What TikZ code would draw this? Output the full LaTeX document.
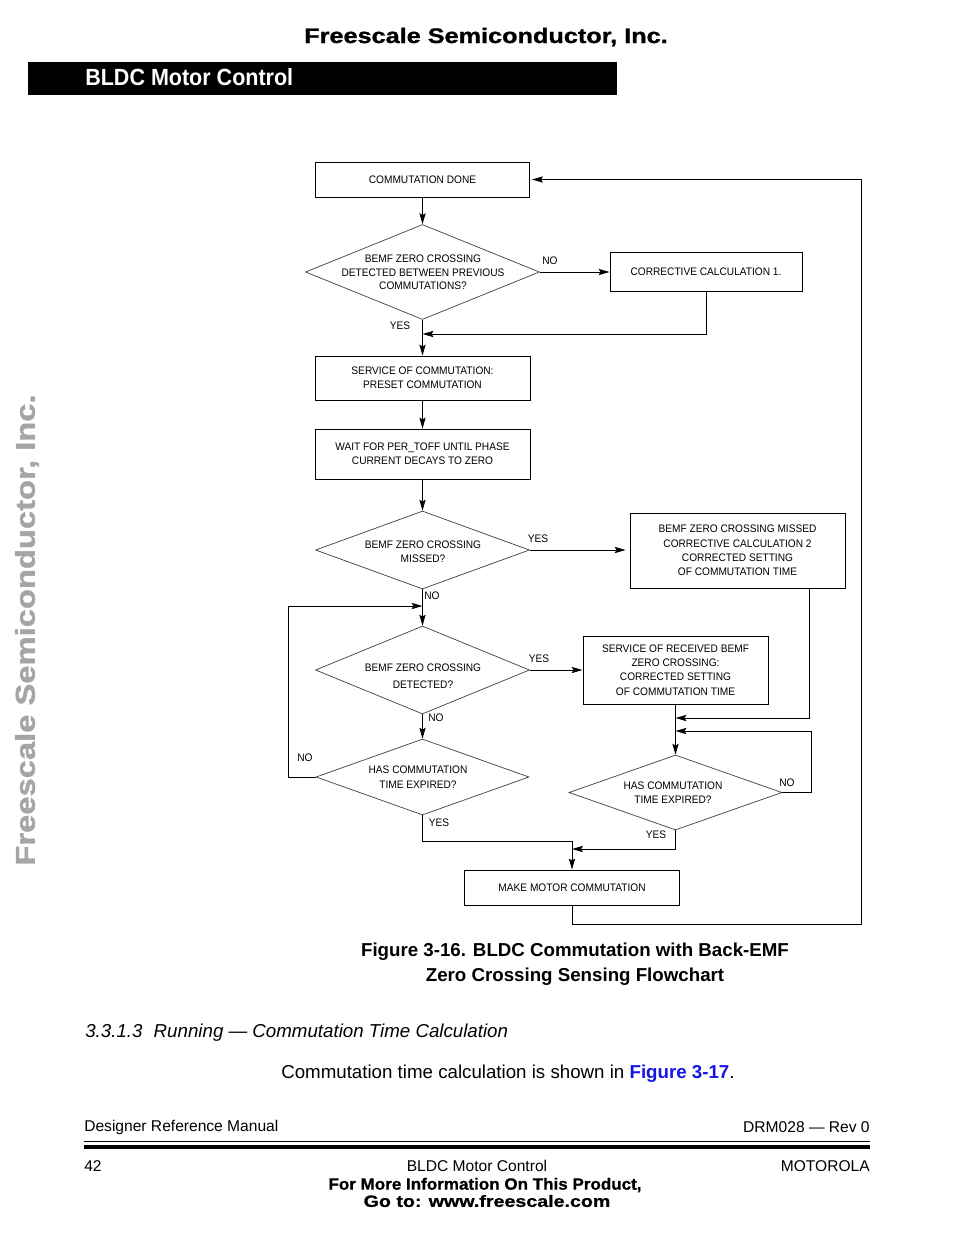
\documentclass[tikz,border=0pt]{standalone}
\usepackage{fontspec}
\setmainfont{Liberation Sans}
\newfontfamily\flowfont[FakeStretch=0.93]{Liberation Sans}
\newfontfamily\widefont[FakeStretch=1.2,FakeBold=1.2]{Liberation Sans}
\newfontfamily\footwide[FakeStretch=1.04,FakeBold=0.8]{Liberation Sans}
\newfontfamily\footwider[FakeStretch=1.2,FakeBold=0.8]{Liberation Sans}
\newfontfamily\barfont[FakeStretch=0.92]{Liberation Sans}
\usetikzlibrary{shapes.geometric,arrows.meta}
\definecolor{linkblue}{RGB}{20,20,230}
\definecolor{wmgray}{RGB}{165,165,165}
\def\pxu{0.6415pt}
\tikzset{
  box/.style 2 args={draw, line width=0.6pt, inner sep=0pt, align=center,
    font=\flowfont\fontsize{7}{9.1}\selectfont,
    minimum width=#1*\pxu, minimum height=#2*\pxu},
  dia/.style 2 args={draw=black!75, diamond, line width=0.45pt, inner sep=0pt,
    minimum width=#1*\pxu, minimum height=#2*\pxu},
  dtxt/.style={inner sep=0pt, align=center, font=\flowfont\fontsize{7}{8.8}\selectfont},
  lbl/.style={inner sep=0pt, font=\flowfont\fontsize{7}{8.8}\selectfont},
  arr/.style={line width=0.6pt, -{Stealth[length=7pt,width=4pt,inset=1.2pt]}},
  txt/.style={inner sep=0pt, font=\fontsize{10}{12}\selectfont},
}
\begin{document}
\begin{tikzpicture}[x=0.6415pt,y=-0.6415pt]
\fill[white] (0,0) rectangle (954,1235);
\useasboundingbox (0,0) rectangle (954,1235);

% header
\node[inner sep=0pt, font=\widefont\bfseries\fontsize{13.5}{16}\selectfont] (hdr) at (486,37) {Freescale Semiconductor, Inc.};
\node[fill=black, inner sep=0pt, anchor=north west, minimum width=589*\pxu, minimum height=33*\pxu] (bar) at (28,62) {};
\node[inner sep=0pt, anchor=west, text=white, font=\barfont\bfseries\fontsize{15}{18}\selectfont] (bartxt) at (85,77.5) {BLDC Motor Control};

% watermark
\node[inner sep=0pt, rotate=90, text=wmgray, font=\widefont\bfseries\fontsize{17.5}{20}\selectfont] (wm) at (27,630) {Freescale Semiconductor, Inc.};

% flowchart nodes
\node[box={214}{35}] (b1) at (422.5,179.5) {COMMUTATION DONE};
\node[dia={234}{95}] (d1) at (422.5,272) {};
\node[dtxt] (d1t) at (423,272.5) {BEMF ZERO CROSSING\\DETECTED BETWEEN PREVIOUS\\COMMUTATIONS?};
\node[box={192}{39}] (cc1) at (706,272) {CORRECTIVE CALCULATION 1.};
\node[box={215}{44}] (b2) at (422.5,378) {SERVICE OF COMMUTATION:\\PRESET COMMUTATION};
\node[box={215}{50}] (b3) at (422.5,454) {WAIT FOR PER\_TOFF UNTIL PHASE\\CURRENT DECAYS TO ZERO};
\node[dia={214}{78}] (d3) at (422.5,550) {};
\node[dtxt] (d3t) at (423,551.5) {BEMF ZERO CROSSING\\MISSED?};
\node[box={215}{75}] (b4) at (737.5,550.5) {BEMF ZERO CROSSING MISSED\\CORRECTIVE CALCULATION 2\\CORRECTED SETTING\\OF COMMUTATION TIME};
\node[dia={214}{88}] (d4) at (422.5,670) {};
\node[dtxt, font=\flowfont\fontsize{7}{11}\selectfont] (d4t) at (423,676.5) {BEMF ZERO CROSSING\\DETECTED?};
\node[box={185}{68}] (b5) at (675.5,670) {SERVICE OF RECEIVED BEMF\\ZERO CROSSING:\\CORRECTED SETTING\\OF COMMUTATION TIME};
\node[dia={213}{76}] (d5) at (422.5,777) {};
\node[dtxt, font=\flowfont\fontsize{7}{9.6}\selectfont] (d5t) at (418,777.5) {HAS COMMUTATION\\TIME EXPIRED?};
\node[dia={213}{75}] (d6) at (675.5,792.5) {};
\node[dtxt, font=\flowfont\fontsize{7}{9.1}\selectfont] (d6t) at (673,793) {HAS COMMUTATION\\TIME EXPIRED?};
\node[box={215}{35}] (b6) at (572,887.5) {MAKE MOTOR COMMUTATION};

% labels
\node[lbl] (l1) at (550,261) {NO};
\node[lbl] (l2) at (400,326) {YES};
\node[lbl] (l3) at (538,539) {YES};
\node[lbl] (l4) at (432,596) {NO};
\node[lbl] (l5) at (539,659) {YES};
\node[lbl] (l6) at (436,718) {NO};
\node[lbl] (l7) at (305,758) {NO};
\node[lbl] (l8) at (439,823) {YES};
\node[lbl] (l9) at (787,783) {NO};
\node[lbl] (l10) at (656,835) {YES};

% junction coordinates
\coordinate (m1) at (422.5,334);
\coordinate (r1) at (861,924);
\coordinate (b4o) at (809,588);
\coordinate (j1) at (675.5,718);
\coordinate (j2) at (675.5,731);
\coordinate (c3) at (811,792.5);
\coordinate (j3) at (572,849);
\coordinate (j4) at (572,841);
\coordinate (c5) at (288,777);
\coordinate (j5) at (422.5,606);

% connectors
\draw[arr] (b1.south) -- (d1.north);
\draw[arr] (d1.east) -- (cc1.west);
\draw[arr] (cc1.south) |- (m1);
\draw[arr] (d1.south) -- (b2.north);
\draw[arr] (b2.south) -- (b3.north);
\draw[arr] (b3.south) -- (d3.north);
\draw[arr, shorten >=2.5pt] (d3.east) -- (d3.east -| b4.west);
\draw[arr] (d3.south) -- (d4.north);
\draw[arr] (d4.east) -- (b5.west);
\draw[arr] (d4.south) -- (d5.north);
\draw[arr] (d5.west) -- (c5) |- (j5);
\draw[arr] (d5.south) |- (j4) -- (b6.north);
\draw[arr] (b4o) |- (j1);
\draw[arr] (b5.south) -- (d6.north);
\draw[arr] (d6.east) -- (c3) |- (j2);
\draw[arr] (d6.south) |- (j3);
\draw[arr, shorten >=1.3pt] (b6.south) |- (r1) |- (b1.east);

% caption and text
\node[inner sep=0pt, align=center, font=\bfseries\fontsize{12}{16}\selectfont] (cap) at (575,964) {Figure 3-16. BLDC Commutation with Back-EMF\\Zero Crossing Sensing Flowchart};
\node[inner sep=0pt, anchor=west, font=\itshape\fontsize{12}{14}\selectfont] (sec) at (85,1033) {3.3.1.3\hspace{0.6em}Running — Commutation Time Calculation};
\node[inner sep=0pt, anchor=west, font=\fontsize{12}{14}\selectfont] (body) at (281,1074) {Commutation time calculation is shown in \textcolor{linkblue}{\bfseries Figure 3-17}.};

% footer
\node[txt, anchor=west] (f1) at (84,1127) {Designer Reference Manual};
\node[txt, anchor=east] (f2) at (870,1127) {DRM028 — Rev 0};
\draw[line width=0.6pt] (84,1141) -- (870,1141);
\draw[line width=2pt] (84,1147) -- (870,1147);
\node[txt, anchor=west] (f3) at (84,1166) {42};
\node[txt] (f4) at (477,1166) {BLDC Motor Control};
\node[txt, anchor=east] (f5) at (870,1166) {MOTOROLA};
\node[inner sep=0pt, font=\footwide\bfseries\fontsize{10.5}{12}\selectfont] (f6) at (485,1185) {For More Information On This Product,};
\node[inner sep=0pt, font=\footwider\bfseries\fontsize{10.5}{12}\selectfont] (f7) at (487,1201) {Go to: www.freescale.com};
\end{tikzpicture}
\end{document}
